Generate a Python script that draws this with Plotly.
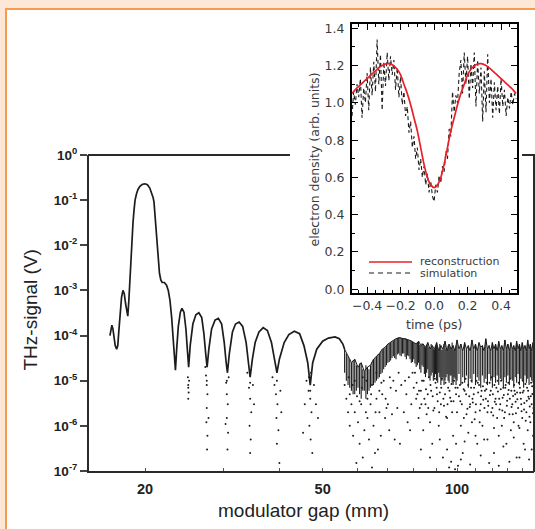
import plotly.graph_objects as go

# ---------------- DATA ----------------
# Main plot: THz signal (V) vs modulator gap (mm) - upper trace
gap_a = [16.69, 16.78, 16.86, 16.95, 17.05, 17.15, 17.28, 17.38, 17.48, 17.6, 17.72, 17.85, 17.97,
         18.1, 18.2, 18.3, 18.4, 18.5, 18.6, 18.7, 18.8, 18.9, 19.0, 19.15, 19.3, 19.5, 19.75, 20.0,
         20.25, 20.5, 20.7, 20.85, 20.95, 21.05, 21.15, 21.25, 21.4, 21.55, 21.7, 21.85, 22.1, 22.35,
         22.55, 22.75, 22.95, 23.1, 23.25, 23.4, 23.55, 23.75, 24.0, 24.2, 24.45, 24.7, 24.9, 25.05,
         25.25, 25.6, 26.0, 26.4, 26.8, 27.1, 27.35, 27.55, 27.8, 28.2, 28.7, 29.2, 29.7, 30.1, 30.4,
         30.6, 30.9, 31.4, 31.9, 32.5, 33.1, 33.7, 34.1, 34.4, 34.8, 35.3, 36.0, 36.8, 37.6, 38.4,
         39.0, 39.5, 40.0, 41.0, 42.0, 43.2, 44.4, 45.4, 46.3, 46.9, 47.5, 48.5, 50.0, 51.5, 53.3,
         54.5, 55.5]
signal_a = [1.0e-4, 1.5e-4, 1.7e-4, 1.4e-4, 9e-5, 6e-5, 5e-5, 6e-5, 1.3e-4, 3.2e-4, 7e-4, 1.0e-3, 8.5e-4,
            5e-4, 3.2e-4, 2.7e-4, 6e-4, 2e-3, 5e-3, 1.2e-2, 3.2e-2, 6e-2, 1.0e-1, 1.4e-1, 1.75e-1, 2.05e-1, 2.25e-1, 2.3e-1,
            2.2e-1, 1.85e-1, 1.45e-1, 1.15e-1, 9e-2, 5e-2, 2.2e-2, 1.0e-2, 4.5e-3, 2.4e-3, 1.7e-3, 1.5e-3, 1.5e-3, 1.3e-3,
            1.0e-3, 6e-4, 2.5e-4, 1.1e-4, 4.5e-5, 1.7e-5, 5e-5, 1.6e-4, 3.3e-4, 4.0e-4, 3.3e-4, 1.4e-4, 4.5e-5, 2.0e-5,
            6e-5, 1.8e-4, 2.9e-4, 3.2e-4, 2.5e-4, 1.1e-4, 4e-5, 2.0e-5, 5e-5, 1.4e-4, 2.2e-4, 2.4e-4, 1.8e-4, 7e-5, 2.5e-5,
            1.5e-5, 4e-5, 1.2e-4, 1.8e-4, 2.0e-4, 1.6e-4, 7e-5, 2.5e-5, 1.2e-5, 3e-5, 7e-5, 1.2e-4, 1.5e-4, 1.3e-4, 7e-5,
            3e-5, 1.5e-5, 3e-5, 7e-5, 1.05e-4, 1.25e-4, 1.1e-4, 6e-5, 2.5e-5, 8e-6, 2.5e-5, 5e-5, 7.5e-5, 8.8e-5, 9.3e-5,
            8.5e-5, 6.5e-5]

# Noisy band beyond ~56 mm: gap, upper and lower signal of the fast oscillation (streaks)
band_gap = [56, 57, 58, 59, 60, 61, 62, 63, 64, 65, 66, 67, 68, 69, 70, 71, 72, 73, 74, 75, 76, 77, 78,
            79, 80, 81, 82, 83, 84, 85, 86, 87, 88, 89, 90, 91, 92, 93, 94, 95, 96, 97, 98, 99, 100,
            101, 102, 103, 104, 105, 106, 107, 108, 109, 110, 111, 112, 113, 114, 115, 116, 117, 118,
            119, 120, 121, 122, 123, 124, 125, 126, 127, 128, 129, 130, 131, 132, 133, 134, 135, 136,
            137, 138, 139, 140, 141, 142, 143, 144, 145, 146, 147, 148, 149]
band_hi = [5e-5, 3.5e-5, 2.5e-5, 3e-5, 2e-5, 2.5e-5, 1.6e-5, 2e-5, 2.2e-5, 3e-5, 3.5e-5, 4e-5, 5e-5, 5.5e-5,
           6.5e-5, 7e-5, 7.8e-5, 8.5e-5, 9e-5, 8.8e-5, 8.6e-5, 8.5e-5, 8e-5, 7.6e-5, 7e-5, 6.5e-5, 7.5e-5,
           6e-5, 6.5e-5, 5.5e-5, 7e-5, 5e-5, 6e-5, 5e-5, 7e-5, 4.5e-5, 6e-5, 5e-5, 7.5e-5, 4.5e-5, 6.5e-5,
           5e-5, 6e-5, 4.5e-5, 8e-5, 5e-5, 6.5e-5, 4.5e-5, 7e-5, 5e-5, 6e-5, 4.5e-5, 8e-5, 5e-5, 6.5e-5,
           4.5e-5, 7e-5, 5.5e-5, 6e-5, 4.5e-5, 8.5e-5, 5e-5, 6e-5, 4.5e-5, 7e-5, 5e-5, 6.5e-5, 4.5e-5,
           7.5e-5, 5e-5, 6e-5, 4.5e-5, 8e-5, 5e-5, 6.5e-5, 4.5e-5, 7e-5, 5e-5, 6e-5, 4.5e-5, 7.5e-5, 5e-5,
           6.5e-5, 4.5e-5, 7e-5, 5e-5, 6e-5, 4.5e-5, 8e-5, 5e-5, 6.5e-5, 4.5e-5, 7e-5, 5e-5]
band_lo = [1.5e-5, 8e-6, 6e-6, 5e-6, 7e-6, 4e-6, 6e-6, 5e-6, 7e-6, 8e-6, 1e-5, 1.2e-5, 1.5e-5, 2e-5,
           2.5e-5, 2.8e-5, 3.5e-5, 3e-5, 4e-5, 3.5e-5, 4e-5, 3e-5, 3.5e-5, 2.5e-5, 3e-5, 2e-5, 2.5e-5,
           1.5e-5, 2e-5, 1.2e-5, 1.8e-5, 1e-5, 1.5e-5, 1.2e-5, 1e-5, 1.5e-5, 8e-6, 1.2e-5, 1e-5, 1.4e-5,
           9e-6, 1.3e-5, 8e-6, 1.1e-5, 1e-5, 1.4e-5, 8e-6, 1.2e-5, 9e-6, 1.3e-5, 7e-6, 1.1e-5, 9e-6,
           1.4e-5, 8e-6, 1.2e-5, 1e-5, 7e-6, 1.3e-5, 9e-6, 1.1e-5, 8e-6, 1.4e-5, 1e-5, 7e-6, 1.2e-5,
           9e-6, 1.3e-5, 8e-6, 1.1e-5, 1e-5, 7e-6, 1.2e-5, 9e-6, 1.3e-5, 8e-6, 1.1e-5, 1e-5, 7e-6, 1.2e-5,
           9e-6, 1.4e-5, 8e-6, 1.1e-5, 1e-5, 7e-6, 1.3e-5, 9e-6, 1.1e-5, 8e-6, 1.2e-5, 1e-5, 9e-6, 1.3e-5]
# extra streaks between the integer positions (56.5 ... 99.5 mm)
band2_gap = [56.5, 57.5, 58.5, 59.5, 60.5, 61.5, 62.5, 63.5, 64.5, 65.5, 66.5, 67.5, 68.5, 69.5, 70.5,
             71.5, 72.5, 73.5, 74.5, 75.5, 76.5, 77.5, 78.5, 79.5, 80.5, 81.5, 82.5, 83.5, 84.5, 85.5,
             86.5, 87.5, 88.5, 89.5, 90.5, 91.5, 92.5, 93.5, 94.5, 95.5, 96.5, 97.5, 98.5, 99.5]
band2_hi = [4e-5, 3e-5, 2.8e-5, 2.2e-5, 2.4e-5, 1.8e-5, 2.2e-5, 1.8e-5, 2.6e-5, 3.2e-5, 3.8e-5, 4.5e-5,
            5.2e-5, 6e-5, 6.8e-5, 7.4e-5, 8.2e-5, 8.8e-5, 9.2e-5, 8.7e-5, 8.8e-5, 8.2e-5, 7.8e-5, 7.2e-5,
            6.8e-5, 7e-5, 6.3e-5, 6.8e-5, 5.8e-5, 6.2e-5, 5.5e-5, 6.5e-5, 5.2e-5, 6e-5, 5.5e-5, 6.5e-5,
            4.8e-5, 6.5e-5, 5e-5, 6e-5, 5.5e-5, 7e-5, 4.8e-5, 6e-5]
band2_lo = [1e-5, 7e-6, 5e-6, 6e-6, 5e-6, 6e-6, 4e-6, 6e-6, 8e-6, 9e-6, 1.1e-5, 1.4e-5, 1.8e-5, 2.2e-5,
            2.6e-5, 3.2e-5, 3.2e-5, 3.8e-5, 3.6e-5, 4e-5, 3.4e-5, 3.6e-5, 3e-5, 2.6e-5, 2.4e-5, 2.2e-5,
            1.8e-5, 2.2e-5, 1.4e-5, 1.5e-5, 1.2e-5, 1.3e-5, 1e-5, 1.4e-5, 9e-6, 1.2e-5, 1e-5, 8e-6,
            1.2e-5, 1e-5, 1.3e-5, 9e-6, 1.2e-5, 8e-6]

# Scattered low-signal points
dot_gap = [24.95, 25.0, 25.05, 25.0, 25.1, 25.0,
           27.4, 27.5, 27.6, 27.5, 27.45, 27.6, 27.55, 27.75, 27.3, 27.5,
           30.4, 30.5, 30.65, 30.5, 30.7, 30.6, 30.3, 30.8, 30.5,
           34.2, 34.4, 34.6, 34.3, 34.5, 34.4, 34.9, 35.1, 33.9, 34.4,
           39.0, 39.3, 39.6, 39.4, 39.8, 39.5, 40.2, 40.4, 38.6, 40.0, 39.5,
           46.0, 46.5, 46.9, 47.2, 46.7, 47.0, 47.4, 47.8, 48.3, 45.6, 48.8, 45.2, 46.9, 46.6, 47.1,
           56.5, 57.0, 57.5, 58.0, 58.5, 59.0, 60.0, 60.5, 61.0, 62.0, 62.5, 63.0, 63.5, 64.0, 65.0,
           65.5, 66.0, 67.0, 67.5, 68.0, 69.0, 70.0, 70.5, 59.5, 64.5,
           56.0, 57.5, 59.0, 60.5, 61.5, 63.0, 64.5, 66.0, 67.0, 68.5, 69.5, 71.0, 73.5, 76.5, 79.5,
           77.5, 72.5, 66.5, 61.5,
           72.0, 73.0, 74.0, 75.0, 76.0, 77.0, 78.0, 79.0, 80.0, 74.5, 78.5, 71.5,
           81, 82, 83, 84, 85, 86, 87, 88, 89, 90, 91, 92, 93, 94, 95, 96, 97, 98, 99, 100, 100.5,
           101, 102, 103, 104, 105, 106, 107, 108, 109, 110, 111, 112, 113, 114, 115, 116, 117, 118,
           119, 120, 121, 122, 123, 124, 125, 126, 127, 128, 129, 130, 131, 132, 133, 134, 135, 136,
           137, 138, 139, 140, 141, 142, 143, 144, 145, 146, 147, 148, 148.5,
           80.5, 83.5, 86.5, 89.5, 92.5, 95.5, 98.5, 101.5, 104.5, 107.5, 110.5, 113.5, 116.5, 119.5,
           122.5, 125.5, 128.5, 131.5, 134.5, 137.5, 140.5, 143.5, 146.5,
           81.5, 82.5, 84.5, 85.5, 87.5, 88.5, 90.5, 91.5, 93.5, 94.5, 96.5, 97.5, 99.5, 102.5, 103.5,
           105.5, 106.5, 108.5, 109.5, 111.5, 112.5, 114.5, 115.5, 117.5, 118.5, 120.5, 121.5, 123.5,
           124.5, 126.5, 127.5, 129.5, 130.5, 132.5, 133.5, 135.5, 136.5, 138.5, 139.5, 141.5, 142.5,
           144.5, 145.5, 147.5, 148.0,
           83, 87, 91.5, 95, 97, 99.5, 102, 104, 107, 110, 113, 117, 121, 124, 127, 131, 134, 138,
           141, 145, 147,
           100.3, 101.7, 102.8, 103.6, 104.8, 105.9, 106.8, 107.7, 108.3, 109.2, 110.2, 111.3, 112.4,
           113.2, 114.3, 115.2, 116.3, 117.3, 118.3, 119.3, 120.3, 121.3, 122.3, 123.3, 124.3, 125.3,
           126.3, 127.3, 128.3, 129.3, 130.3, 131.3, 132.3, 133.3, 134.3, 135.3, 136.3, 137.3, 138.3,
           139.3, 140.3, 141.3, 142.3, 143.3, 144.3, 145.3, 146.3, 147.3, 148.3,
           81.2, 82.2, 83.2, 84.2, 85.2, 86.2, 87.2, 88.2, 89.2, 90.2, 91.2, 92.2, 93.2, 94.2, 95.2,
           96.2, 97.2, 98.2, 99.2,
           57.2, 58.3, 59.7, 61.2, 62.7, 64.2, 65.7, 67.7, 69.2, 70.7]
dot_v = [1.2e-5, 8e-6, 5.5e-6, 4e-6, 1.0e-5, 7e-6,
         1.3e-5, 8e-6, 5e-6, 2.5e-6, 1.2e-6, 6e-7, 3e-7, 1.5e-6, 2e-5, 1e-5,
         9e-6, 5e-6, 3e-6, 1.5e-6, 7e-7, 3e-7, 1.1e-6, 1.2e-5, 1e-5,
         7e-6, 4e-6, 2e-6, 1e-6, 5e-7, 2.5e-7, 8e-6, 3e-6, 1.5e-5, 9e-6,
         8e-6, 5e-6, 3e-6, 1.5e-6, 8e-7, 4e-7, 6e-6, 2e-6, 1.2e-5, 1.5e-7, 1e-5,
         1e-5, 6e-6, 4e-6, 2e-6, 1e-6, 5e-7, 2.5e-7, 8e-6, 3e-6, 3e-6, 1.5e-6, 7e-7, 6e-6, 1.2e-5, 1.5e-5,
         4e-6, 2e-6, 1e-6, 3e-6, 6e-7, 2e-6, 1.2e-6, 4e-7, 3e-6, 8e-7, 2e-6, 1.5e-6, 5e-7, 3e-6, 1e-6,
         2.5e-7, 4e-6, 2e-6, 6e-7, 5e-6, 1.5e-6, 3e-6, 8e-7, 1.5e-7, 1.2e-7,
         8e-6, 5e-6, 1e-5, 3.5e-6, 1.2e-5, 4e-6, 8e-6, 1.5e-5, 6e-6, 1e-5, 2.5e-6, 7e-6, 2.5e-6, 1e-5, 1.5e-5,
         1.2e-6, 5e-7, 3e-7, 2e-7,
         1e-5, 6e-6, 1.5e-5, 8e-6, 2e-6, 5e-6, 1.2e-5, 3e-6, 7e-6, 4e-7, 8e-7, 1.8e-6,
         4e-6, 1.5e-6, 6e-6, 8e-7, 3e-6, 5e-6, 1.2e-6, 4e-7, 2.5e-6, 7e-6, 1e-6, 3e-6, 2e-7, 5e-6,
         1.5e-6, 1.2e-7, 3.5e-6, 6e-7, 1.1e-7, 2e-6, 1.3e-7,
         4.5e-6, 1e-6, 2.5e-7, 6e-6, 1.8e-6, 7e-7, 3e-6, 1.2e-6, 5e-6, 2e-6, 4e-7, 8e-6, 3e-6, 1e-6,
         5e-7, 4e-6, 2e-6, 1.5e-7, 6e-6, 2.5e-6, 9e-7, 4e-6, 1.5e-6, 6e-7, 3e-6, 1e-6, 7e-6, 2e-6,
         4e-7, 5e-6, 1.8e-6, 8e-7, 3e-6, 1.2e-6, 5e-6, 2e-7, 2.5e-6, 9e-7, 4e-6, 1.5e-6, 6e-6, 3e-7,
         2e-6, 8e-7, 4e-6, 1.2e-6, 3e-6, 6e-7, 5e-6,
         1.5e-5, 1e-5, 1.2e-5, 9e-6, 1.1e-5, 7e-6, 1e-5, 8e-6, 1.1e-5, 7e-6, 1e-5, 6e-6, 9e-6, 1.2e-5,
         7e-6, 1e-5, 8e-6, 1.1e-5, 6e-6, 9e-6, 1e-5, 7e-6, 9e-6,
         5e-6, 2.5e-6, 4e-6, 1.8e-6, 6e-6, 2.2e-6, 3.5e-6, 5.5e-6, 2.8e-6, 1.6e-6, 4.2e-6, 2e-6, 5e-6,
         3e-6, 6.5e-6, 2.4e-6, 4.5e-6, 3.3e-6, 1.4e-6, 5.5e-6, 2.2e-6, 3.8e-6, 6e-6, 2.8e-6, 4.8e-6,
         1.7e-6, 3.4e-6, 5.8e-6, 2.3e-6, 4.2e-6, 1.5e-6, 3.6e-6, 6.2e-6, 2.6e-6, 4.6e-6, 1.9e-6,
         3.9e-6, 5.4e-6, 2.1e-6, 3.2e-6, 1.3e-6, 4.4e-6, 2.7e-6, 5.1e-6, 1.9e-6,
         3e-7, 2e-7, 5e-7, 3e-7, 1.6e-7, 4e-7, 1.8e-7, 4.5e-7, 1.4e-7, 6e-7, 2.2e-7, 5e-7, 2.5e-7,
         1.3e-7, 3.5e-7, 1.6e-7, 5.5e-7, 2e-7, 4e-7, 1.8e-7, 3e-7,
         7e-6, 3.5e-6, 9e-6, 1.5e-6, 5e-6, 8e-6, 2.6e-6, 1e-5, 4e-6, 7e-6, 3e-6, 9e-6, 1.2e-6,
         4.5e-6, 7.5e-6, 2.5e-6, 6.5e-6, 3.5e-6, 9e-6, 2e-6, 5e-6, 8e-6, 3e-6, 1e-5, 4e-6, 6.5e-6,
         2.2e-6, 4.8e-6, 7e-6, 2.8e-6, 9e-6, 4e-6, 6e-6, 1.8e-6, 8e-6, 3.4e-6, 5.5e-6, 1e-6, 7e-6,
         3e-6, 5.5e-6, 2.3e-6, 8.5e-6, 3.6e-6, 6e-6, 1.6e-6, 4.5e-6, 7.5e-6, 2.5e-6,
         9e-6, 6e-6, 3e-6, 1e-5, 6.5e-6, 2.5e-6, 8e-6, 4.5e-6, 1.1e-5, 5e-6, 2e-6, 7e-6, 4e-6, 9e-6,
         3e-6, 6e-6, 8.5e-6, 3.5e-6, 7e-6,
         1.2e-5, 8e-6, 4.5e-6, 7e-6, 1e-5, 5e-6, 2e-6, 9e-6, 4e-6, 1.2e-5]

main_tick_vals = [1e-7, 1e-6, 1e-5, 1e-4, 1e-3, 1e-2, 1e-1, 1e0]
main_tick_text = ["10<sup>-7</sup>", "10<sup>-6</sup>", "10<sup>-5</sup>", "10<sup>-4</sup>",
                  "10<sup>-3</sup>", "10<sup>-2</sup>", "10<sup>-1</sup>", "10<sup>0</sup>"]
gap_tick_vals = [20, 30, 40, 50, 60, 70, 80, 90, 100, 110, 120, 130, 140]
gap_tick_text = ["20", "", "", "50", "", "", "", "", "100", "", "", "", ""]

# Inset: electron density vs time
rec_t = [-0.49, -0.46, -0.43, -0.40, -0.37, -0.34, -0.31, -0.28, -0.25, -0.22, -0.20, -0.18, -0.16,
         -0.14, -0.12, -0.10, -0.08, -0.06, -0.04, -0.02, 0.00, 0.02, 0.04, 0.06, 0.08, 0.10, 0.12,
         0.14, 0.16, 0.18, 0.20, 0.22, 0.25, 0.28, 0.31, 0.34, 0.37, 0.40, 0.43, 0.46, 0.49]
rec_v = [1.05, 1.08, 1.105, 1.13, 1.155, 1.18, 1.20, 1.21, 1.205, 1.18, 1.15, 1.10, 1.05, 0.99, 0.92,
         0.85, 0.76, 0.67, 0.60, 0.56, 0.545, 0.56, 0.60, 0.67, 0.76, 0.85, 0.92, 0.99, 1.05, 1.10,
         1.15, 1.18, 1.205, 1.21, 1.20, 1.18, 1.155, 1.13, 1.105, 1.08, 1.05]
sim_t = [-0.49, -0.48, -0.47, -0.46, -0.45, -0.44, -0.43, -0.42, -0.41, -0.40, -0.39, -0.38, -0.37,
         -0.36, -0.35, -0.34, -0.33, -0.32, -0.31, -0.30, -0.29, -0.28, -0.27, -0.26, -0.25, -0.24,
         -0.23, -0.22, -0.21, -0.20, -0.19, -0.18, -0.17, -0.16, -0.15, -0.14, -0.13, -0.12, -0.11,
         -0.10, -0.09, -0.08, -0.07, -0.06, -0.05, -0.04, -0.03, -0.02, -0.01, 0.00, 0.01, 0.02, 0.03,
         0.04, 0.05, 0.06, 0.07, 0.08, 0.09, 0.10, 0.11, 0.12, 0.13, 0.14, 0.15, 0.16, 0.17, 0.18,
         0.19, 0.20, 0.21, 0.22, 0.23, 0.24, 0.25, 0.26, 0.27, 0.28, 0.29, 0.30, 0.31, 0.32, 0.33,
         0.34, 0.35, 0.36, 0.37, 0.38, 0.39, 0.40, 0.41, 0.42, 0.43, 0.44, 0.45, 0.46, 0.47, 0.48, 0.49]
sim_v = [0.93, 1.06, 0.99, 1.10, 1.03, 1.13, 0.92, 1.08, 1.00, 1.16, 0.96, 1.19, 1.04, 1.22, 1.06,
         1.34, 1.10, 1.26, 0.96, 1.22, 1.09, 1.27, 1.12, 1.25, 1.15, 1.23, 1.07, 1.19, 1.03, 1.14,
         0.99, 1.06, 0.93, 0.98, 0.84, 0.90, 0.76, 0.82, 0.70, 0.76, 0.64, 0.70, 0.60, 0.66, 0.56,
         0.62, 0.52, 0.58, 0.50, 0.47, 0.56, 0.52, 0.61, 0.57, 0.66, 0.63, 0.74, 0.70, 0.86, 0.82,
         1.06, 0.95, 1.04, 1.00, 1.16, 1.23, 1.05, 1.27, 1.10, 1.25, 1.02, 1.21, 1.08, 1.27, 0.98,
         1.23, 1.05, 1.19, 0.90, 1.17, 0.95, 1.26, 1.00, 1.13, 0.92, 1.11, 0.96, 1.09, 0.94, 1.13,
         0.98, 1.07, 0.93, 1.03, 0.97, 1.06, 0.99, 1.05, 1.02]
inset_y_ticks = [0.0, 0.2, 0.4, 0.6, 0.8, 1.0, 1.2, 1.4]
inset_x_ticks = [-0.4, -0.2, 0.0, 0.2, 0.4]

# ---------------- LAYOUT HELPERS ----------------
W, H = 535, 529
def px(x):
    return x / W
def py(y):
    return 1 - y / H

# vertical streaks through the noisy band
streak_x, streak_y = [], []
for g, hi, lo in list(zip(band_gap, band_hi, band_lo)) + list(zip(band2_gap, band2_hi, band2_lo)):
    streak_x += [g, g, None]
    streak_y += [hi, lo, None]

INK = "#1c1c1c"
fig = go.Figure()
fig.add_trace(go.Scatter(x=gap_a + [band_gap[0]], y=signal_a + [band_hi[0]], mode="lines",
                         line=dict(color=INK, width=1.7), xaxis="x", yaxis="y",
                         showlegend=False, hoverinfo="skip"))
fig.add_trace(go.Scatter(x=streak_x, y=streak_y, mode="lines", connectgaps=False,
                         line=dict(color=INK, width=1.1), xaxis="x", yaxis="y",
                         showlegend=False, hoverinfo="skip"))
fig.add_trace(go.Scatter(x=band_gap, y=band_hi, mode="lines",
                         line=dict(color=INK, width=1.0), xaxis="x", yaxis="y",
                         showlegend=False, hoverinfo="skip"))
fig.add_trace(go.Scatter(x=dot_gap, y=dot_v, mode="markers",
                         marker=dict(color=INK, size=2), xaxis="x", yaxis="y",
                         showlegend=False, hoverinfo="skip"))
fig.add_trace(go.Scatter(x=sim_t, y=sim_v, mode="lines", name="simulation",
                         line=dict(color=INK, width=1.1, dash="4px,3px"),
                         xaxis="x2", yaxis="y2", showlegend=False))
fig.add_trace(go.Scatter(x=rec_t, y=rec_v, mode="lines", name="reconstruction",
                         line=dict(color="#e8202a", width=1.7, shape="spline", smoothing=0.8),
                         xaxis="x2", yaxis="y2", showlegend=False))

AX = "#2a2a2a"
inset_font = dict(family="DejaVu Sans", size=12.5, color="#3a3a3a")

fig.update_layout(
    width=W, height=H, autosize=False,
    margin=dict(l=0, r=0, t=0, b=0, pad=0, autoexpand=False),
    paper_bgcolor="#fde8d7", plot_bgcolor="white",
    showlegend=False,
    xaxis=dict(type="log", range=[1.17558, 2.17244], domain=[px(89), px(534)], anchor="y",
               showline=True, linecolor=AX, linewidth=2, showgrid=False, zeroline=False,
               ticks="inside", ticklen=3, tickwidth=1, tickcolor="#555", automargin=False,
               tickvals=gap_tick_vals, ticktext=["<b>%s</b>" % t if t else "" for t in gap_tick_text],
               tickfont=dict(family="Liberation Sans, Arial", size=14.5, color="#222"),
               ticklabelstandoff=4),
    yaxis=dict(type="log", range=[-7, 0], domain=[py(471), py(155)], anchor="x",
               showline=True, linecolor=AX, linewidth=2, showgrid=False, zeroline=False,
               ticks="outside", ticklen=7, tickwidth=1.5, tickcolor="#444", automargin=False,
               tickvals=main_tick_vals, ticktext=["<b>%s</b>" % t for t in main_tick_text],
               tickfont=dict(family="Liberation Sans, Arial", size=13.5, color="#222")),
    xaxis2=dict(range=[-0.49, 0.495], domain=[px(352), px(517)], anchor="y2",
                showline=True, mirror="allticks", linecolor="black", linewidth=2,
                showgrid=False, zeroline=False, ticks="inside", ticklen=6, tickcolor="black",
                tickvals=inset_x_ticks, tickformat=".1f", tickfont=inset_font, automargin=False,
                minor=dict(ticks="inside", ticklen=3, dtick=0.05, tick0=0, tickcolor="black",
                           showgrid=False),
                ticklabelstandoff=0),
    yaxis2=dict(range=[-0.02, 1.423], domain=[py(293), py(24)], anchor="x2",
                showline=True, mirror="allticks", linecolor="black", linewidth=2,
                showgrid=False, zeroline=False, ticks="inside", ticklen=6, tickcolor="black",
                tickvals=inset_y_ticks, tickformat=".1f", tickfont=inset_font, automargin=False,
                minor=dict(ticks="inside", ticklen=3, dtick=0.1, tick0=0, tickcolor="black",
                           showgrid=False),
                ticklabelstandoff=3),
)

shapes = [
    # white panel with orange frame
    dict(type="rect", xref="paper", yref="paper", x0=px(6), x1=px(600), y0=py(600), y1=py(9),
         fillcolor="white", line=dict(color="#f59a4f", width=2), layer="below"),
    # main frame: top (interrupted by the inset) and right edges
    dict(type="line", xref="paper", yref="paper", x0=px(88), x1=px(290), y0=py(155), y1=py(155),
         line=dict(color=AX, width=2)),
    dict(type="line", xref="paper", yref="paper", x0=px(522), x1=px(534), y0=py(155), y1=py(155),
         line=dict(color=AX, width=2)),
    dict(type="line", xref="paper", yref="paper", x0=px(534), x1=px(534), y0=py(154), y1=py(472),
         line=dict(color=AX, width=2)),
    # inset legend samples
    dict(type="line", xref="paper", yref="paper", x0=px(369), x1=px(412), y0=py(262), y1=py(262),
         line=dict(color="#e8202a", width=1.5)),
    dict(type="line", xref="paper", yref="paper", x0=px(369), x1=px(412), y0=py(273), y1=py(273),
         line=dict(color=INK, width=1.2, dash="5px,4px")),
]

annotations = [
    dict(text="THz-signal (V)", x=px(30), y=py(310.5), textangle=-90,
         font=dict(family="Liberation Sans, Arial", size=19, color="#222")),
    dict(text="modulator gap (mm)", x=px(303.5), y=py(510),
         font=dict(family="Liberation Sans, Arial", size=19, color="#222")),
    dict(text="electron density (arb. units)", x=px(314), y=py(159.5), textangle=-90,
         font=inset_font),
    dict(text="time (ps)", x=px(434), y=py(324), font=inset_font),
    dict(text="reconstruction", x=px(418), y=py(261.5), xanchor="left",
         font=dict(family="DejaVu Sans", size=11, color="#3a3a3a")),
    dict(text="simulation", x=px(418), y=py(273.5), xanchor="left",
         font=dict(family="DejaVu Sans", size=11, color="#3a3a3a")),
]
for a in annotations:
    a.update(xref="paper", yref="paper", showarrow=False)
    a.setdefault("xanchor", "center")
    a.setdefault("yanchor", "middle")

fig.update_layout(shapes=shapes, annotations=annotations)
fig.write_html("out.html", config={"displayModeBar": False},
               post_script="document.body.style.margin='0px';document.body.style.overflow='hidden';")
